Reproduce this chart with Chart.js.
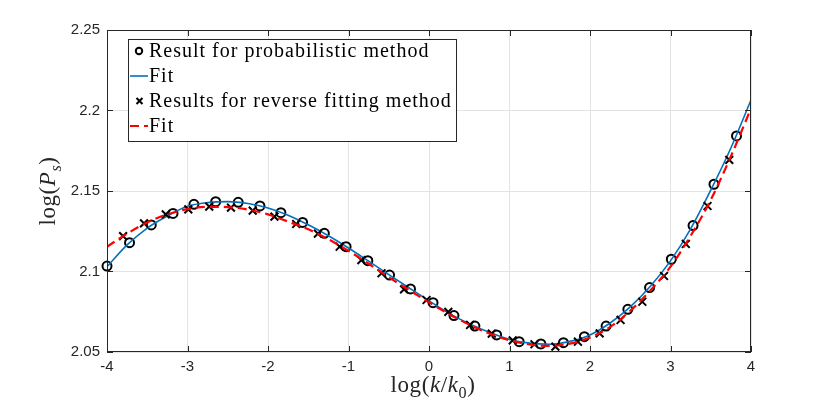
<!DOCTYPE html>
<html>
<head>
<meta charset="utf-8">
<script src="https://cdn.jsdelivr.net/npm/chart.js@4/dist/chart.umd.min.js"></script>
<style>
  html, body { margin: 0; padding: 0; background: #fff; }
  #wrap { width: 830px; height: 402px; }
</style>
</head>
<body>
<div id="wrap"><canvas id="psChart"></canvas></div>
<script>
// probabilistic method results (circles)
const xProb = [-4.00, -3.72, -3.45, -3.18, -2.92, -2.65, -2.37, -2.10, -1.84, -1.57,
  -1.30, -1.03, -0.76, -0.49, -0.23, 0.05, 0.31, 0.57, 0.84, 1.12,
  1.39, 1.67, 1.93, 2.20, 2.47, 2.74, 3.01, 3.28, 3.54, 3.82];
const yProb = [2.1034, 2.1179, 2.1289, 2.1361, 2.1417, 2.1434, 2.1430, 2.1407, 2.1365, 2.1305,
  2.1237, 2.1154, 2.1067, 2.0978, 2.0892, 2.0806, 2.0726, 2.0661, 2.0606, 2.0564,
  2.0550, 2.0558, 2.0595, 2.0661, 2.0765, 2.0900, 2.1076, 2.1285, 2.1542, 2.1842];

// reverse fitting method results (crosses)
const xRev = [-3.80, -3.54, -3.27, -2.99, -2.73, -2.46, -2.19, -1.92, -1.65, -1.38,
  -1.11, -0.84, -0.59, -0.31, -0.03, 0.24, 0.51, 0.78, 1.04, 1.31,
  1.57, 1.85, 2.12, 2.38, 2.65, 2.92, 3.19, 3.46, 3.73];
const yRev = [2.1220, 2.1299, 2.1355, 2.1386, 2.1403, 2.1397, 2.1378, 2.1341, 2.1295, 2.1235,
  2.1154, 2.1071, 2.0989, 2.0889, 2.0823, 2.0749, 2.0668, 2.0614, 2.0572, 2.0548,
  2.0533, 2.0564, 2.0616, 2.0699, 2.0812, 2.0972, 2.1171, 2.1407, 2.1693];

// fit curves
const xFit = [-4, -3.75, -3.5, -3.25, -3, -2.75, -2.5, -2.25, -2, -1.75, -1.5,
  -1.25, -1, -0.75, -0.5, -0.25, 0, 0.25, 0.5, 0.75, 1,
  1.25, 1.5, 1.75, 2, 2.25, 2.5, 2.75, 3, 3.25, 3.5, 3.75, 4];
const yFitProb = [2.1030, 2.1165, 2.1270, 2.1345, 2.1405, 2.1428, 2.1434, 2.1422, 2.1395, 2.1350, 2.1290,
  2.1222, 2.1146, 2.1064, 2.0981, 2.0899, 2.0818, 2.0740, 2.0676, 2.0622, 2.0578,
  2.0555, 2.0548, 2.0566, 2.0606, 2.0680, 2.0780, 2.0908, 2.1066, 2.1265, 2.1505, 2.1767, 2.2065];
const yFitRev = [2.1154, 2.1235, 2.1305, 2.1355, 2.1387, 2.1402, 2.1400, 2.1385, 2.1355, 2.1310, 2.1262,
  2.1200, 2.1128, 2.1048, 2.0965, 2.0885, 2.0808, 2.0735, 2.0670, 2.0615, 2.0573,
  2.0547, 2.0538, 2.0552, 2.0590, 2.0656, 2.0756, 2.0882, 2.1030, 2.1222, 2.1445, 2.1715, 2.2013];

const xTicks = [-4, -3, -2, -1, 0, 1, 2, 3, 4];
const yTicks = [2.05, 2.1, 2.15, 2.2, 2.25];

const pts = (xs, ys) => xs.map((x, i) => ({ x: x, y: ys[i] }));

const AX = "#262626";
const SERIF = "'Liberation Serif', 'DejaVu Serif', serif";
const SANS = "'Liberation Sans', Arial, sans-serif";

// MATLAB-like box with inward ticks on all sides
const boxPlugin = {
  id: "box",
  afterDatasetsDraw(chart) {
    const { ctx, chartArea: a, scales } = chart;
    ctx.save();
    ctx.strokeStyle = AX;
    ctx.lineWidth = 1;
    ctx.strokeRect(a.left + 0.5, a.top + 0.5, a.right - a.left - 1, a.bottom - a.top - 1);
    ctx.beginPath();
    xTicks.forEach(v => {
      const px = Math.round(scales.x.getPixelForValue(v)) + 0.5;
      ctx.moveTo(px, a.bottom); ctx.lineTo(px, a.bottom - 6);
      ctx.moveTo(px, a.top); ctx.lineTo(px, a.top + 6);
    });
    yTicks.forEach(v => {
      const py = Math.round(scales.y.getPixelForValue(v)) + 0.5;
      ctx.moveTo(a.left, py); ctx.lineTo(a.left + 6, py);
      ctx.moveTo(a.right, py); ctx.lineTo(a.right - 6, py);
    });
    ctx.stroke();
    ctx.restore();
  }
};

// draws text pieces with italics / subscripts, centred on the origin
function richText(ctx, parts, size) {
  ctx.letterSpacing = "0.6px";
  let w = 0;
  parts.forEach(p => {
    ctx.font = (p.it ? "italic " : "") + (p.sub ? size * 0.7 : size) + "px " + SERIF;
    p.w = ctx.measureText(p.t).width;
    w += p.w;
  });
  let x = -w / 2;
  parts.forEach(p => {
    ctx.font = (p.it ? "italic " : "") + (p.sub ? size * 0.7 : size) + "px " + SERIF;
    ctx.fillText(p.t, x, p.sub ? size * 0.25 : 0);
    x += p.w;
  });
}

const titlePlugin = {
  id: "axisTitles",
  afterDraw(chart) {
    const { ctx, chartArea: a } = chart;
    ctx.save();
    ctx.fillStyle = AX;
    ctx.textBaseline = "alphabetic";
    ctx.textAlign = "left";
    ctx.translate((a.left + a.right) / 2 + 4, 392);
    richText(ctx, [{ t: "log(" }, { t: "k", it: true }, { t: "/" }, { t: "k", it: true },
      { t: "0", sub: true }, { t: ")" }], 23);
    ctx.restore();

    ctx.save();
    ctx.fillStyle = AX;
    ctx.textAlign = "left";
    ctx.translate(55, (a.top + a.bottom) / 2);
    ctx.rotate(-Math.PI / 2);
    richText(ctx, [{ t: "log(" }, { t: "P", it: true }, { t: "s", it: true, sub: true }, { t: ")" }], 23);
    ctx.restore();
  }
};

// legend box in the upper left of the axes
const legendPlugin = {
  id: "boxLegend",
  afterDraw(chart) {
    const ctx = chart.ctx;
    const L = 128, T = 39, R = 456, B = 141;
    ctx.save();
    ctx.fillStyle = "#fff";
    ctx.fillRect(L, T, R - L, B - T);
    ctx.strokeStyle = AX;
    ctx.lineWidth = 1;
    ctx.strokeRect(L + 0.5, T + 0.5, R - L, B - T);
    const rows = [51, 76, 101, 126];
    chart.data.datasets.forEach((ds, i) => {
      const y = rows[i];
      ctx.save();
      if (ds.showLine) {
        ctx.strokeStyle = ds.borderColor;
        ctx.lineWidth = ds.borderWidth;
        ctx.setLineDash(ds.borderDash || []);
        ctx.beginPath();
        ctx.moveTo(130, y); ctx.lineTo(148, y);
        ctx.stroke();
      } else if (ds.pointStyle === "circle") {
        ctx.strokeStyle = "#000";
        ctx.lineWidth = 2;
        ctx.beginPath();
        ctx.arc(139, y, 3.2, 0, Math.PI * 2);
        ctx.stroke();
      } else {
        ctx.strokeStyle = "#000";
        ctx.lineWidth = 2;
        ctx.beginPath();
        ctx.moveTo(136.5, y - 3); ctx.lineTo(142.5, y + 3);
        ctx.moveTo(142.5, y - 3); ctx.lineTo(136.5, y + 3);
        ctx.stroke();
      }
      ctx.restore();
      ctx.fillStyle = "#000";
      ctx.font = "20px " + SERIF;
      ctx.letterSpacing = "1px";
      ctx.textBaseline = "middle";
      ctx.textAlign = "left";
      ctx.fillText(ds.label, 149, y + 1);
    });
    ctx.restore();
  }
};

new Chart(document.getElementById("psChart"), {
  type: "scatter",
  data: {
    datasets: [
      {
        label: "Result for probabilistic method",
        data: pts(xProb, yProb),
        pointStyle: "circle",
        pointRadius: 4.5,
        pointBorderWidth: 2,
        pointBorderColor: "#000",
        pointBackgroundColor: "rgba(0,0,0,0)",
        showLine: false,
        clip: false,
        order: 4,
      },
      {
        label: "Fit",
        data: pts(xFit, yFitProb),
        showLine: true,
        borderColor: "#0072BD",
        borderWidth: 1.6,
        pointRadius: 0,
        cubicInterpolationMode: "monotone",
        order: 3,
      },
      {
        label: "Results for reverse fitting method",
        data: pts(xRev, yRev),
        pointStyle: "crossRot",
        pointRadius: 5.5,
        pointBorderWidth: 2,
        pointBorderColor: "#000",
        showLine: false,
        clip: false,
        order: 2,
      },
      {
        label: "Fit",
        data: pts(xFit, yFitRev),
        showLine: true,
        borderColor: "#FF0000",
        borderWidth: 2.2,
        borderDash: [9, 5],
        pointRadius: 0,
        cubicInterpolationMode: "monotone",
        order: 1,
      },
    ],
  },
  options: {
    responsive: true,
    maintainAspectRatio: false,
    animation: false,
    events: [],
    layout: { padding: { left: 0, top: 30, right: 79, bottom: 0 } },
    plugins: {
      legend: { display: false },
      tooltip: { enabled: false },
    },
    scales: {
      x: {
        type: "linear",
        min: -4,
        max: 4,
        afterBuildTicks: s => { s.ticks = xTicks.map(v => ({ value: v })); },
        afterFit: s => { s.height = 50; },
        grid: { color: "#e3e3e3", drawTicks: false },
        border: { display: false },
        ticks: {
          color: AX,
          padding: 6,
          font: { family: SANS, size: 15 },
          callback: v => String(v),
        },
      },
      y: {
        type: "linear",
        min: 2.05,
        max: 2.25,
        afterBuildTicks: s => { s.ticks = yTicks.map(v => ({ value: v })); },
        afterFit: s => { s.width = 107; },
        grid: { color: "#e3e3e3", drawTicks: false },
        border: { display: false },
        ticks: {
          color: AX,
          padding: 7,
          font: { family: SANS, size: 15 },
          callback: v => String(v),
        },
      },
    },
  },
  plugins: [boxPlugin, titlePlugin, legendPlugin],
});
</script>
</body>
</html>
